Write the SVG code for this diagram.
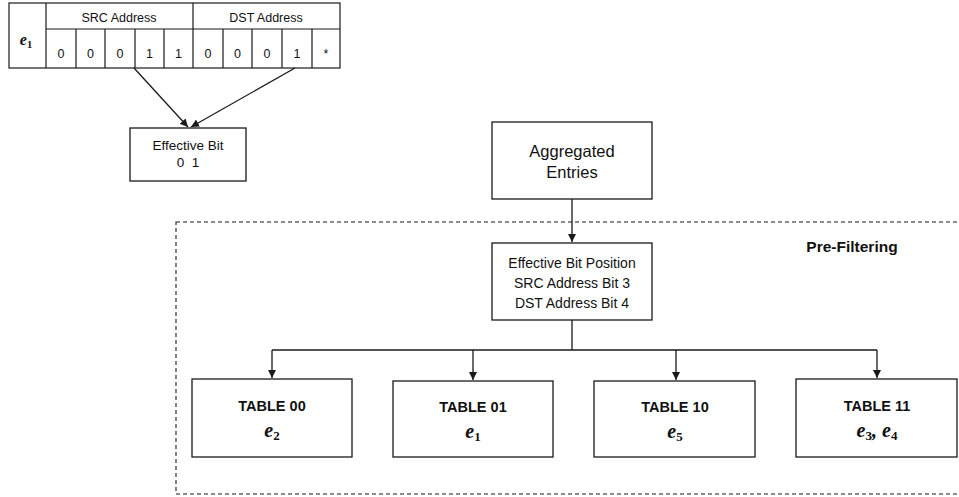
<svg xmlns="http://www.w3.org/2000/svg" width="959" height="497" viewBox="0 0 959 497">
  <defs>
    <marker id="arrow" viewBox="0 0 10 10" refX="10" refY="5" markerWidth="8" markerHeight="8" markerUnits="userSpaceOnUse" orient="auto">
      <path d="M0,0 L10,5 L0,10 Z" fill="#1a1a1a"/>
    </marker>
    <style>
      .box { fill: #fff; stroke: #1a1a1a; stroke-width: 1.3; }
      .grid { fill: none; stroke: #1a1a1a; stroke-width: 1.2; }
      .line { fill: none; stroke: #1a1a1a; stroke-width: 1.3; }
      .t { font-family: "Liberation Sans", Arial, sans-serif; fill: #111; text-anchor: middle; }
      .b { font-weight: bold; }
      .m { font-family: "Liberation Serif", "DejaVu Serif", serif; font-weight: bold; font-style: italic; fill: #111; text-anchor: middle; }
      .sub { font-style: normal; }
    </style>
  </defs>

  <!-- Pre-filtering region -->
  <g id="prefilter">
    <rect x="176" y="222" width="790" height="272" fill="none" stroke="#1a1a1a" stroke-width="1.1" stroke-dasharray="4,3"/>
    <text class="t b" x="852" y="252" font-size="15.5">Pre-Filtering</text>
  </g>

  <!-- Entry e1 bit table -->
  <g id="entry-table">
    <rect class="grid" x="9" y="3" width="331" height="65"/>
    <line class="grid" x1="46" y1="3" x2="46" y2="68"/>
    <line class="grid" x1="46" y1="29" x2="340" y2="29"/>
    <line class="grid" x1="193" y1="3" x2="193" y2="68"/>
    <path class="grid" d="M76,29V68 M105,29V68 M135,29V68 M164,29V68 M223,29V68 M252,29V68 M282,29V68 M312,29V68"/>
    <text class="m" x="26" y="45" font-size="16">e<tspan class="sub" font-size="10.5" dy="3">1</tspan></text>
    <text class="t" x="119" y="22" font-size="12.5">SRC Address</text>
    <text class="t" x="266" y="22" font-size="12.5">DST Address</text>
    <g class="t" font-size="12.5">
      <text x="61" y="58">0</text>
      <text x="90.5" y="58">0</text>
      <text x="120" y="58">0</text>
      <text x="149.5" y="58">1</text>
      <text x="178.5" y="58">1</text>
      <text x="208" y="58">0</text>
      <text x="237.5" y="58">0</text>
      <text x="267" y="58">0</text>
      <text x="297" y="58">1</text>
      <text x="326" y="58">*</text>
    </g>
  </g>

  <g id="effective-bit">
    <rect class="box" x="130" y="128" width="116" height="53"/>
    <text class="t" x="188" y="150" font-size="13.5">Effective Bit</text>
    <text class="t" x="188" y="167" font-size="13.5" xml:space="preserve">0  1</text>
  </g>

  <g id="aggregated">
    <rect class="box" x="492" y="122" width="160" height="77"/>
    <text class="t" x="572" y="157" font-size="16.5">Aggregated</text>
    <text class="t" x="572" y="178" font-size="16.5">Entries</text>
  </g>

  <g id="bit-position">
    <rect class="box" x="492" y="243" width="160" height="77"/>
    <text class="t" x="572" y="268" font-size="14">Effective Bit Position</text>
    <text class="t" x="572" y="288" font-size="14">SRC Address Bit 3</text>
    <text class="t" x="572" y="308" font-size="14">DST Address Bit 4</text>
  </g>

  <g id="table00">
    <rect class="box" x="192" y="379" width="160" height="78"/>
    <text class="t b" x="272" y="411" font-size="14.5">TABLE 00</text>
    <text class="m" x="272" y="437" font-size="20">e<tspan class="sub" font-size="13" dy="3">2</tspan></text>
  </g>

  <g id="table01">
    <rect class="box" x="393" y="381" width="160" height="76"/>
    <text class="t b" x="473" y="412" font-size="14.5">TABLE 01</text>
    <text class="m" x="473" y="438" font-size="20">e<tspan class="sub" font-size="13" dy="3">1</tspan></text>
  </g>

  <g id="table10">
    <rect class="box" x="594" y="381" width="161" height="76"/>
    <text class="t b" x="675" y="412" font-size="14.5">TABLE 10</text>
    <text class="m" x="675" y="438" font-size="20">e<tspan class="sub" font-size="13" dy="3">5</tspan></text>
  </g>

  <g id="table11">
    <rect class="box" x="796" y="379" width="161" height="78"/>
    <text class="t b" x="877" y="411" font-size="14.5">TABLE 11</text>
    <text class="m" x="877" y="437" font-size="20">e<tspan class="sub" font-size="13" dy="3">3</tspan><tspan dy="-3">, e</tspan><tspan class="sub" font-size="13" dy="3">4</tspan></text>
  </g>

  <!-- Connectors -->
  <g id="connectors">
    <line class="line" x1="134" y1="68" x2="188" y2="127" marker-end="url(#arrow)"/>
    <line class="line" x1="295" y1="68" x2="191" y2="127" marker-end="url(#arrow)"/>
    <line class="line" x1="572" y1="199" x2="572" y2="242" marker-end="url(#arrow)"/>
    <path class="line" d="M572,320 V350 M272,350 H877"/>
    <line class="line" x1="272" y1="350" x2="272" y2="378" marker-end="url(#arrow)"/>
    <line class="line" x1="473" y1="350" x2="473" y2="380" marker-end="url(#arrow)"/>
    <line class="line" x1="676" y1="350" x2="676" y2="380" marker-end="url(#arrow)"/>
    <line class="line" x1="877" y1="350" x2="877" y2="378" marker-end="url(#arrow)"/>
  </g>
</svg>
